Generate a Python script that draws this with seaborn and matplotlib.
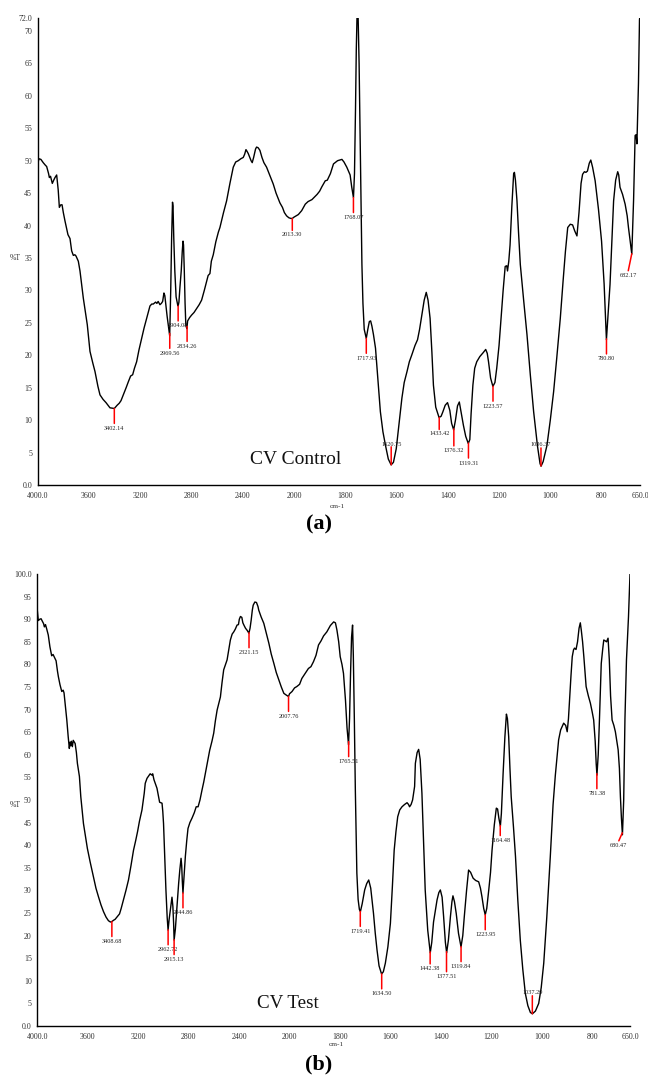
import numpy as np
import pandas as pd
import matplotlib
matplotlib.use("Agg")
import matplotlib.pyplot as plt
import seaborn as sns

# ---------------- data: panel (a) CV Control ----------------
wn_a = [4000, 3990, 3975, 3957, 3940, 3930, 3915, 3909, 3900, 3886, 3875, 3865, 3852, 3840, 3831,
        3820, 3810, 3800, 3787, 3775, 3764, 3748, 3735, 3722, 3710, 3701, 3683, 3670, 3644, 3613,
        3592, 3570, 3553, 3530, 3514, 3490, 3467, 3436, 3402, 3380, 3364, 3350, 3332, 3310, 3293,
        3275, 3259, 3245, 3228, 3210, 3189, 3170, 3150, 3124, 3110, 3098, 3080, 3070, 3060, 3046,
        3035, 3025, 3015, 3008, 3000, 2990, 2980, 2970, 2962, 2955, 2948, 2944, 2938, 2930, 2920,
        2908, 2904, 2898, 2890, 2880, 2872, 2866, 2862, 2856, 2850, 2844, 2836, 2830, 2815, 2799,
        2780, 2760, 2740, 2721, 2700, 2682, 2670, 2656, 2645, 2630, 2610, 2590, 2578, 2550, 2526,
        2500, 2474, 2455, 2435, 2415, 2396, 2385, 2375, 2368, 2357, 2345, 2335, 2326, 2315, 2300,
        2292, 2280, 2266, 2250, 2235, 2214, 2190, 2162, 2140, 2110, 2090, 2075, 2058, 2040, 2025,
        2013, 2000, 1983, 1970, 1956, 1945, 1930, 1910, 1900, 1891, 1878, 1870, 1858, 1846, 1830,
        1813, 1805, 1794, 1781, 1775, 1768, 1764, 1760, 1757, 1754, 1750, 1746, 1742, 1738, 1735,
        1731, 1726, 1718, 1712, 1706, 1701, 1696, 1690, 1682, 1672, 1663, 1653, 1643, 1632, 1621,
        1612, 1601, 1590, 1579, 1570, 1559, 1550, 1540, 1528, 1518, 1510, 1501, 1492, 1484, 1477,
        1469, 1462, 1456, 1447, 1434, 1426, 1419, 1410, 1401, 1392, 1385, 1377, 1370, 1362, 1355,
        1347, 1339, 1330, 1320, 1314, 1309, 1302, 1295, 1287, 1275, 1262, 1252, 1246, 1241, 1233,
        1224, 1216, 1209, 1200, 1192, 1184, 1176, 1170, 1167, 1162, 1157, 1150, 1143, 1140, 1136,
        1130, 1124, 1117, 1104, 1091, 1078, 1065, 1050, 1040, 1036, 1028, 1013, 1000, 987, 975,
        961, 950, 941, 932, 922, 913, 905, 896, 888, 880, 874, 867, 861, 855, 848,
        842, 835, 825, 812, 800, 790, 781, 775, 767, 760, 753, 745, 737, 733, 728,
        718, 708, 700, 695, 688, 682, 675, 669, 665, 662, 656, 652, 650]
t_a = [49.5, 50.3, 50.2, 49.7, 49.3, 49.1, 48.0, 47.4, 47.6, 46.5, 47.0, 47.4, 47.8, 45.5, 42.8,
       43.2, 43.2, 42.0, 40.7, 39.6, 38.6, 38.0, 36.1, 35.4, 35.5, 35.3, 34.5, 33.0, 28.8, 24.7,
       20.6, 18.8, 17.5, 15.2, 13.9, 13.2, 12.7, 11.9, 11.8, 12.3, 12.6, 13.0, 13.9, 15.0, 15.9,
       16.8, 17.0, 18.0, 19.0, 20.8, 22.6, 24.2, 25.7, 27.6, 27.9, 27.9, 28.2, 28.0, 28.3, 27.8,
       28.0, 28.3, 29.6, 29.2, 27.8, 26.0, 24.5, 23.0, 30.0, 38.0, 43.6, 43.0, 38.0, 33.0, 29.0,
       27.8, 27.6, 28.2, 30.5, 33.0, 36.0, 37.6, 37.0, 33.0, 28.0, 24.6, 24.1, 25.3, 25.8, 26.2,
       26.6, 27.2, 27.8, 28.5, 30.0, 31.4, 32.3, 32.6, 34.5, 35.5, 37.5, 39.0, 39.7, 42.0, 43.8,
       46.5, 49.0, 49.8, 50.0, 50.3, 50.5, 51.0, 51.7, 51.5, 51.1, 50.5, 50.0, 49.7, 50.5, 51.8,
       52.1, 52.0, 51.6, 50.5, 49.7, 49.0, 47.8, 46.4, 45.0, 43.5, 42.8, 42.0, 41.5, 41.2, 41.1,
       41.1, 41.3, 41.7, 42.3, 43.3, 43.7, 44.0, 44.8, 45.3, 46.0, 46.9, 47.0, 48.0, 49.5, 50.0,
       50.2, 49.8, 49.0, 47.8, 46.0, 44.3, 48.0, 58.0, 67.0, 72.5, 72.5, 65.0, 54.0, 44.0, 34.0,
       28.0, 24.0, 22.6, 24.0, 25.2, 25.3, 24.5, 23.2, 21.1, 16.0, 11.3, 8.2, 6.1, 4.0, 3.1,
       3.5, 5.6, 9.5, 13.4, 15.8, 17.5, 19.0, 20.1, 21.5, 22.4, 24.0, 26.3, 28.5, 29.7, 28.5,
       25.7, 20.5, 15.4, 12.0, 10.4, 10.6, 11.3, 12.3, 12.7, 11.5, 9.5, 8.5, 10.0, 12.2, 12.8,
       11.0, 9.2, 7.5, 6.4, 7.0, 11.0, 15.4, 18.0, 19.0, 19.8, 20.4, 20.9, 20.3, 19.0, 16.5,
       15.2, 15.8, 18.0, 21.5, 25.7, 30.0, 33.7, 33.8, 33.0, 34.5, 37.0, 43.0, 48.0, 48.2, 47.0,
       43.8, 39.0, 34.0, 28.5, 23.2, 17.0, 11.3, 6.0, 3.3, 2.9, 3.6, 6.1, 10.0, 14.4, 19.5,
       25.7, 31.5, 36.0, 39.7, 40.2, 40.1, 39.2, 38.4, 42.0, 46.5, 47.9, 48.3, 48.2, 48.4, 49.6,
       50.1, 49.0, 46.9, 42.5, 37.6, 31.0, 22.4, 26.0, 30.9, 37.5, 43.8, 47.0, 48.3, 47.8, 45.9,
       44.8, 43.3, 41.5, 39.7, 37.5, 35.6, 44.0, 53.9, 54.0, 52.6, 61.9, 71.7, 72.5]

peaks_a = ["3402.14", "2969.56", "2904.08", "2834.26", "2013.30", "1768.07", "1717.93", "1620.75",
           "1433.42", "1376.32", "1319.31", "1223.57", "1036.37", "780.80", "682.17"]

# ---------------- data: panel (b) CV Test ----------------
wn_b = [4000, 3995, 3992, 3980, 3970, 3957, 3950, 3944, 3935, 3925, 3913, 3900, 3886, 3875, 3865,
        3851, 3840, 3833, 3820, 3806, 3795, 3788, 3778, 3766, 3755, 3746, 3740, 3735, 3730, 3722,
        3715, 3707, 3700, 3690, 3682, 3666, 3655, 3634, 3603, 3581, 3555, 3535, 3515, 3495, 3475,
        3455, 3436, 3420, 3409, 3395, 3383, 3365, 3348, 3335, 3317, 3297, 3277, 3257, 3237, 3220,
        3205, 3190, 3170, 3152, 3144, 3130, 3118, 3105, 3091, 3085, 3075, 3065, 3051, 3038, 3030,
        3011, 3005, 2999, 2990, 2980, 2970, 2963, 2955, 2945, 2932, 2925, 2919, 2915, 2905, 2898,
        2888, 2879, 2870, 2860, 2855, 2850, 2845, 2835, 2826, 2815, 2805, 2790, 2773, 2755, 2740,
        2725, 2710, 2694, 2680, 2667, 2650, 2633, 2615, 2601, 2588, 2574, 2560, 2548, 2535, 2522,
        2505, 2495, 2480, 2469, 2455, 2442, 2430, 2416, 2405, 2398, 2389, 2378, 2370, 2360, 2349,
        2335, 2322, 2313, 2304, 2295, 2288, 2275, 2262, 2250, 2244, 2225, 2204, 2185, 2164, 2145,
        2124, 2105, 2084, 2065, 2045, 2025, 2008, 2000, 1990, 1980, 1971, 1960, 1951, 1938, 1925,
        1915, 1905, 1895, 1885, 1875, 1865, 1852, 1838, 1825, 1818, 1812, 1805, 1799, 1792, 1786,
        1778, 1772, 1766, 1762, 1758, 1754, 1750, 1747, 1743, 1739, 1733, 1728, 1723, 1719, 1712,
        1702, 1694, 1686, 1678, 1667, 1660, 1653, 1645, 1635, 1628, 1620, 1610, 1600, 1592, 1585,
        1578, 1571, 1563, 1554, 1544, 1534, 1528, 1524, 1518, 1512, 1504, 1501, 1494, 1488, 1482,
        1475, 1468, 1462, 1452, 1442, 1436, 1429, 1415, 1408, 1402, 1395, 1389, 1382, 1377, 1370,
        1362, 1356, 1352, 1346, 1339, 1330, 1320, 1313, 1307, 1298, 1290, 1282, 1272, 1262, 1250,
        1243, 1237, 1230, 1224, 1218, 1210, 1203, 1197, 1188, 1180, 1175, 1170, 1164, 1160, 1153,
        1146, 1140, 1136, 1131, 1126, 1121, 1112, 1104, 1095, 1085, 1075, 1065, 1055, 1045, 1037,
        1025, 1012, 1002, 992, 980, 966, 955, 946, 940, 933, 925, 913, 905, 899, 894,
        889, 884, 879, 874, 870, 864, 858, 852, 847, 843, 838, 833, 824, 815, 807,
        800, 794, 788, 784, 781, 776, 771, 764, 758, 754, 748, 743, 737, 732, 727,
        721, 714, 708, 702, 697, 692, 688, 684, 680, 675, 670, 664, 656, 650]
t_b = [92.0, 90.5, 89.7, 90.0, 90.1, 89.4, 89.0, 88.3, 88.8, 87.8, 86.5, 83.9, 81.9, 82.2, 81.6,
       80.8, 78.5, 77.3, 75.5, 74.0, 74.3, 73.7, 71.0, 67.7, 64.0, 61.4, 62.8, 62.0, 63.0, 61.8,
       63.2, 62.8, 62.5, 60.5, 58.1, 55.2, 50.7, 44.8, 39.3, 36.3, 33.0, 30.5, 28.6, 26.8, 25.3,
       24.1, 23.3, 23.0, 23.1, 23.4, 23.6, 24.2, 24.8, 26.0, 27.9, 30.0, 32.3, 35.5, 38.9, 41.0,
       43.0, 45.3, 47.8, 51.5, 53.7, 54.8, 55.3, 55.8, 55.5, 55.8, 54.5, 53.7, 52.6, 50.7, 49.5,
       49.3, 47.5, 44.8, 38.0, 30.1, 24.0, 21.2, 23.5, 25.7, 28.5, 26.5, 22.7, 19.0, 21.5, 24.2,
       28.0, 31.6, 34.5, 37.1, 35.5, 32.0, 29.4, 33.5, 37.5, 41.0, 43.7, 45.0, 46.0, 47.2, 48.5,
       48.5, 50.0, 52.2, 54.0, 55.9, 58.5, 61.0, 63.0, 64.8, 67.5, 69.9, 71.5, 72.8, 76.0, 78.8,
       80.2, 81.0, 83.5, 85.4, 86.7, 87.2, 87.8, 88.7, 88.8, 90.0, 90.6, 90.4, 89.2, 88.6, 88.0,
       87.5, 86.9, 88.0, 89.8, 92.0, 93.1, 93.8, 93.7, 92.8, 92.0, 90.5, 89.1, 87.0, 84.7, 82.3,
       80.2, 78.2, 76.5, 75.0, 73.6, 73.2, 72.9, 73.5, 74.0, 74.8, 75.1, 75.6, 76.9, 78.0, 79.1,
       79.5, 80.6, 82.0, 84.3, 85.2, 86.3, 87.2, 88.6, 89.4, 89.2, 87.6, 85.0, 81.7, 80.0, 78.0,
       72.0, 66.0, 62.2, 68.0, 78.0, 86.0, 88.7, 82.0, 68.0, 52.2, 33.8, 28.0, 25.8, 25.3, 27.0,
       30.1, 31.5, 32.3, 30.5, 24.9, 20.5, 16.8, 13.3, 11.5, 12.0, 13.9, 17.5, 22.7, 31.0, 38.9,
       43.0, 46.3, 47.8, 48.5, 49.0, 49.4, 49.0, 48.5, 49.0, 50.0, 53.0, 58.1, 60.5, 61.2, 59.0,
       51.5, 40.0, 30.1, 21.2, 16.2, 18.5, 23.0, 27.9, 29.5, 30.1, 28.5, 24.2, 18.5, 16.2, 19.0,
       24.2, 27.5, 28.8, 27.5, 24.9, 20.5, 17.5, 20.0, 24.2, 30.0, 34.5, 34.0, 32.7, 32.2, 31.9,
       30.5, 28.6, 26.0, 24.6, 26.0, 30.1, 34.0, 38.9, 44.5, 48.2, 48.0, 46.0, 44.2, 47.0, 56.0,
       64.0, 69.0, 68.0, 64.0, 57.0, 50.7, 44.0, 37.5, 28.0, 19.0, 12.5, 7.2, 4.5, 3.0, 2.7,
       3.3, 5.0, 8.5, 13.9, 24.0, 37.5, 49.0, 55.5, 59.0, 63.3, 65.5, 67.0, 66.5, 65.1, 68.0,
       72.9, 77.5, 81.7, 83.2, 83.6, 83.3, 85.0, 88.0, 89.2, 87.5, 85.0, 81.7, 75.1, 73.0, 71.4,
       69.5, 67.7, 63.0, 58.0, 55.5, 60.0, 68.0, 80.2, 83.5, 85.4, 85.2, 85.0, 85.8, 81.0, 73.0,
       67.7, 66.5, 65.1, 63.0, 61.1, 57.0, 50.7, 46.0, 42.3, 50.0, 68.0, 81.0, 90.5, 100.0]

peaks_b = ["3408.68", "2962.72", "2915.13", "2844.86", "2321.15", "2007.76", "1765.51", "1719.41",
           "1634.50", "1442.38", "1377.51", "1319.84", "1223.95", "1164.48", "1037.29", "781.38",
           "680.47"]

xtick_vals = [4000, 3600, 3200, 2800, 2400, 2000, 1800, 1600, 1400, 1200, 1000, 800, 650]
xtick_labels = ["4000.0", "3600", "3200", "2800", "2400", "2000", "1800", "1600", "1400",
                "1200", "1000", "800", "650.0"]
yticks_a = list(range(0, 71, 5)) + [72]
yticklabels_a = ["0.0"] + [str(v) for v in range(5, 71, 5)] + ["72.0"]
yticks_b = list(range(0, 100, 5)) + [100]
yticklabels_b = ["0.0"] + [str(v) for v in range(5, 100, 5)] + ["100.0"]

# marker layout (pixel offsets): (line dx, line dy, label dx, label dy)
DEFAULT_MARK = (0, -15, 0, -20)
marks_a = {"1620.75": (0, 18, 0, 20), "1036.37": (0, 18, 0, 21),
           "682.17": (-3.5, -17, -3.5, -22), "1376.32": (0, -17, 0, -22),
           "2013.30": (0, -12, 0, -16), "1433.42": (0, -12, 0, -16)}
marks_b = {"1037.29": (0, 18, 0, 21), "680.47": (-3.5, -8, -4, -13),
           "1377.51": (0, -20, 0, -25), "1164.48": (0, -10, 0, -15),
           "1442.38": (0, -12, 0, -17)}

# ---------------- drawing ----------------
sns.set_theme(style="white")
plt.rcParams["font.family"] = ["Liberation Serif", "DejaVu Serif"]

W, H = 648, 1078
fig = plt.figure(figsize=(W / 100, H / 100), dpi=100)


def fwd(x):
    x = np.asarray(x, dtype=float)
    return np.where(x > 2000, 2000 + (x - 2000) / 2.0, x)


def inv(u):
    u = np.asarray(u, dtype=float)
    return np.where(u > 2000, 2000 + (u - 2000) * 2.0, u)


def rect(l, r, t, b):
    return [l / W, 1 - b / H, (r - l) / W, (b - t) / H]


def panel(box, wn, t, ymax, yt, ytl, peaks, marks, pct_y):
    ax = fig.add_axes(rect(*box))
    df = pd.DataFrame({"wn": wn, "T": t})
    sns.lineplot(data=df, x="wn", y="T", ax=ax, color="black", lw=1.0,
                 estimator=None, sort=False)
    ax.set_xscale("function", functions=(fwd, inv))
    ax.set_xlim(4000, 650)
    ax.set_ylim(0, ymax)
    ax.set_xticks(xtick_vals)
    ax.set_xticklabels(xtick_labels)
    ax.set_yticks(yt)
    ax.set_yticklabels(ytl)
    ax.minorticks_off()
    ax.set_xlabel("")
    ax.set_ylabel("")
    for s in ["top", "right"]:
        ax.spines[s].set_visible(False)
    for s in ["left", "bottom"]:
        ax.spines[s].set_color("black")
        ax.spines[s].set_linewidth(1.0)
    ax.tick_params(axis="both", labelsize=5.7, labelcolor="#333333", color="black",
                   length=2, width=0.8, pad=2)
    ax.tick_params(axis="x", direction="in", pad=5)
    ax.tick_params(axis="y", direction="out")
    ax.text(-0.038, pct_y, "%T", transform=ax.get_yaxis_transform(), fontsize=5.5,
            color="#333333", ha="center", va="center")
    wn_sorted = np.array(wn)[::-1]
    t_sorted = np.array(t)[::-1]
    for p in peaks:
        x = float(p)
        y = float(np.interp(x, wn_sorted, t_sorted))
        ldx, ldy, tdx, tdy = marks.get(p, DEFAULT_MARK)
        ax.annotate("", xy=(x, y), xytext=(ldx, ldy), textcoords="offset pixels",
                    arrowprops=dict(arrowstyle="-", color="red", lw=1.1,
                                    shrinkA=0, shrinkB=0))
        ax.annotate(p, xy=(x, y), xytext=(tdx, tdy), textcoords="offset pixels",
                    ha="center", va="center", fontsize=4.5, color="#222222")
    return ax


ax_a = panel((37.7, 640, 18, 485), wn_a, t_a, 72, yticks_a, yticklabels_a,
             peaks_a, marks_a, 35)
ax_b = panel((37.3, 630, 574, 1026), wn_b, t_b, 100, yticks_b, yticklabels_b,
             peaks_b, marks_b, 49)


def ftext(px, py, s, **kw):
    fig.text(px / W, 1 - py / H, s, ha="center", va="center", **kw)


ftext(296, 460, "CV Control", fontsize=14, color="#111111")
ftext(288, 1004, "CV Test", fontsize=13.7, color="#111111")
ftext(337, 506, "cm-1", fontsize=5.3, color="#333333")
ftext(336, 1044, "cm-1", fontsize=5.3, color="#333333")
ftext(319, 524, "(a)", fontsize=16, fontweight="bold", color="black")
ftext(319, 1064, "(b)", fontsize=16, fontweight="bold", color="black")

fig.savefig("out.png", dpi=100)
